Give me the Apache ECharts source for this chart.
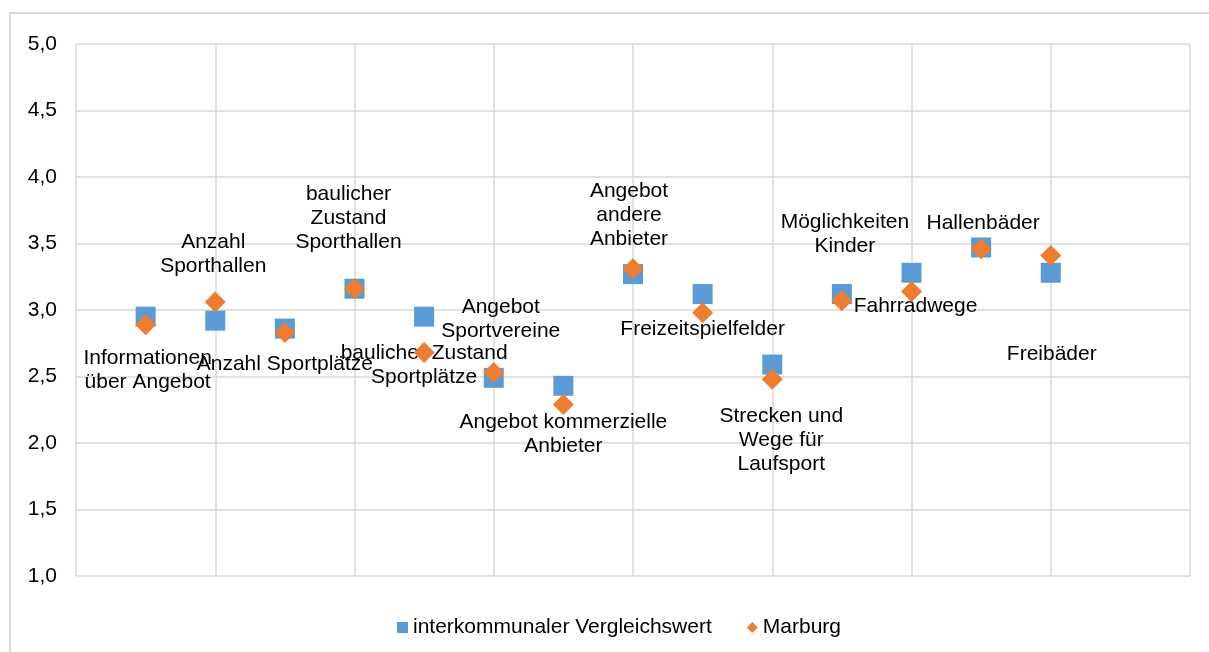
<!DOCTYPE html>
<html>
<head>
<meta charset="utf-8">
<script src="https://cdn.jsdelivr.net/npm/echarts@6/dist/echarts.min.js"></script>
<style>
  html, body { margin: 0; padding: 0; background: #ffffff; }
  #chart { width: 1209px; height: 652px; }
</style>
</head>
<body>
<div id="chart"></div>
<script>
// Category names shown as point labels (line breaks as wrapped in the chart)
const categories = [
  'Informationen\nüber Angebot',
  'Anzahl\nSporthallen',
  'Anzahl Sportplätze',
  'baulicher\nZustand\nSporthallen',
  'baulicher Zustand\nSportplätze',
  'Angebot\nSportvereine',
  'Angebot kommerzielle\nAnbieter',
  'Angebot\nandere\nAnbieter',
  'Freizeitspielfelder',
  'Strecken und\nWege für\nLaufsport',
  'Möglichkeiten\nKinder',
  'Fahrradwege',
  'Hallenbäder',
  'Freibäder'
];

// Mean ratings per category
const vergleichswert = [2.95, 2.92, 2.86, 3.16, 2.95, 2.49, 2.43, 3.27, 3.12, 2.59, 3.12, 3.28, 3.47, 3.28];
const marburg        = [2.89, 3.06, 2.83, 3.16, 2.68, 2.53, 2.29, 3.31, 2.98, 2.48, 3.07, 3.14, 3.46, 3.41];

const seriesNames = ['interkommunaler Vergleichswert', 'Marburg'];

// Y axis range and step
const yMin = 1, yMax = 5, yStep = 0.5;
// X axis range and step (points sit at positions 1..n)
const xMin = 0, xMax = 16, xStep = 2;

// Label nudges in pixels, relative to each category's point (layout only)
const labelNudge = [
  [2, 54], [-2, -66], [0, 36], [-6, -71], [0, 49], [7, -59], [0, 48],
  [-4, -59], [0, 35], [9, 76], [3, -60], [4, 33], [2, -24], [1, 81]
];

const FONT = '"Liberation Sans", Arial, sans-serif';
const GRID_COLOR = '#d9d9d9';

const chart = echarts.init(document.getElementById('chart'), null, { renderer: 'canvas' });

const blueData = vergleichswert.map((v, i) => [i + 1, v]);
const orangeData = marburg.map((v, i) => [i + 1, v]);

chart.setOption({
  animation: false,
  backgroundColor: '#ffffff',
  textStyle: { fontFamily: FONT },
  graphic: [{
    type: 'rect',
    silent: true,
    z: -10,
    shape: { x: 10, y: 13, width: 1400, height: 900 },
    style: { fill: 'none', stroke: GRID_COLOR, lineWidth: 2 }
  }],
  grid: { left: 76, right: 19, top: 44, bottom: 76, containLabel: false },
  xAxis: {
    type: 'value',
    min: xMin, max: xMax, interval: xStep,
    axisLine: { show: false },
    axisTick: { show: false },
    axisLabel: { show: false },
    splitLine: { show: true, lineStyle: { color: GRID_COLOR, width: 1.5 } }
  },
  yAxis: {
    type: 'value',
    min: yMin, max: yMax, interval: yStep,
    axisLine: { show: false },
    axisTick: { show: false },
    axisLabel: {
      margin: 19,
      color: '#000000',
      fontSize: 21,
      fontFamily: FONT,
      formatter: v => v.toFixed(1).replace('.', ',')
    },
    splitLine: { show: true, lineStyle: { color: GRID_COLOR, width: 1.5 } }
  },
  legend: {
    left: 392,
    top: 612,
    itemWidth: 11,
    itemHeight: 11,
    itemGap: 35,
    textStyle: { fontSize: 21, color: '#000000', fontFamily: FONT },
    data: [
      { name: seriesNames[0], icon: 'rect' },
      { name: seriesNames[1], icon: 'diamond' }
    ]
  },
  series: [
    {
      name: seriesNames[0],
      type: 'scatter',
      z: 2,
      symbol: 'rect',
      symbolSize: 20,
      itemStyle: { color: '#5B9BD5', opacity: 1 },
      label: {
        show: true,
        position: 'inside',
        align: 'center',
        verticalAlign: 'middle',
        fontSize: 21,
        lineHeight: 24,
        color: '#000000',
        opacity: 1,
        fontFamily: FONT,
        formatter: p => categories[p.dataIndex]
      },
      labelLayout: p => ({
        dx: labelNudge[p.dataIndex][0],
        dy: labelNudge[p.dataIndex][1],
        hideOverlap: false
      }),
      emphasis: { disabled: true },
      data: blueData
    },
    {
      name: seriesNames[1],
      type: 'scatter',
      z: 5,
      symbol: 'diamond',
      symbolSize: 21,
      itemStyle: { color: '#ED7D31', opacity: 1 },
      emphasis: { disabled: true },
      data: orangeData
    }
  ]
});
</script>
</body>
</html>
